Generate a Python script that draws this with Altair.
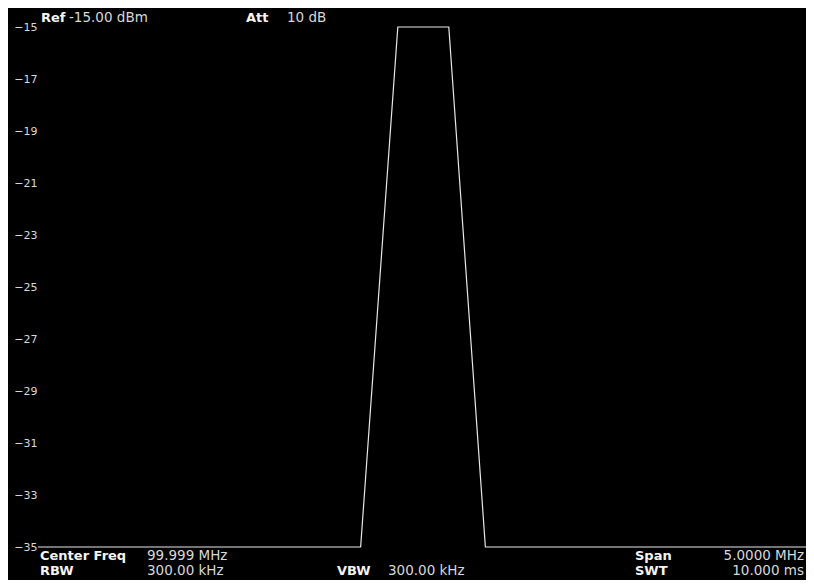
import altair as alt
import pandas as pd

# Trace data (frequency in MHz, level in dBm)
freq_mhz = [97.4995, 99.600, 99.842, 100.174, 100.412, 102.4995]
level_dbm = [-35, -35, -15, -15, -35, -35]

y_ticks = [-15, -17, -19, -21, -23, -25, -27, -29, -31, -33, -35]

# Annotation texts
top_keys = ["Ref", "Att"]
top_vals = ["-15.00 dBm", "10 dB"]
bottom_keys = ["Center Freq", "RBW", "VBW", "Span", "SWT"]
bottom_vals = ["99.999 MHz", "300.00 kHz", "300.00 kHz", "5.0000 MHz", "10.000 ms"]

df = pd.DataFrame({"freq": freq_mhz, "level": level_dbm})

W, H = 768, 520
FONT = "DejaVu Sans"

trace = alt.Chart(df).mark_line(color="#e8e8e8", strokeWidth=1.2, interpolate="linear").encode(
    x=alt.X("freq:Q", scale=alt.Scale(domain=[97.4995, 102.4995], nice=False, zero=False), axis=None),
    y=alt.Y("level:Q", scale=alt.Scale(domain=[-35, -15], nice=False, zero=False),
            axis=alt.Axis(values=y_ticks, format="d", title=None, grid=False, domain=False,
                          ticks=False, labelPadding=1, labelColor="#d8d8d8", labelFont=FONT,
                          labelFontSize=11, labelBaseline="middle")),
)

def txt(s, x, y, bold, align="left"):
    return alt.Chart(pd.DataFrame({"t": [s]})).mark_text(
        align=align, baseline="middle", font=FONT, fontSize=13 if bold else 13.5,
        fontWeight="bold" if bold else "normal",
        color="#f4f4f4" if bold else "#d8d8d8",
    ).encode(text="t:N", x=alt.value(x), y=alt.value(y))

R1, R2 = 529, 544
layers = [trace]
# top row (relative to plot origin at page 38,27)
layers.append(txt(top_keys[0], 3, -9, True))
layers.append(txt(top_vals[0], 31, -9, False))
layers.append(txt(top_keys[1], 208, -9, True))
layers.append(txt(top_vals[1], 249, -9, False))
# bottom rows
layers.append(txt(bottom_keys[0], 2, R1, True))
layers.append(txt(bottom_vals[0], 109, R1, False))
layers.append(txt(bottom_keys[1], 2, R2, True))
layers.append(txt(bottom_vals[1], 109, R2, False))
layers.append(txt(bottom_keys[2], 299, R2, True))
layers.append(txt(bottom_vals[2], 350, R2, False))
layers.append(txt(bottom_keys[3], 597, R1, True))
layers.append(txt(bottom_vals[3], 766, R1, False, "right"))
layers.append(txt(bottom_keys[4], 597, R2, True))
layers.append(txt(bottom_vals[4], 766, R2, False, "right"))

chart = alt.layer(*layers).properties(
    width=W, height=H,
    autosize=alt.AutoSizeParams(type="none"),
    padding={"left": 30, "top": 19, "right": 0, "bottom": 33},
    background="#000000",
).configure_view(stroke=None, fill="#000000")

chart.save("out.html", embed_options={"renderer": "svg", "actions": False})
